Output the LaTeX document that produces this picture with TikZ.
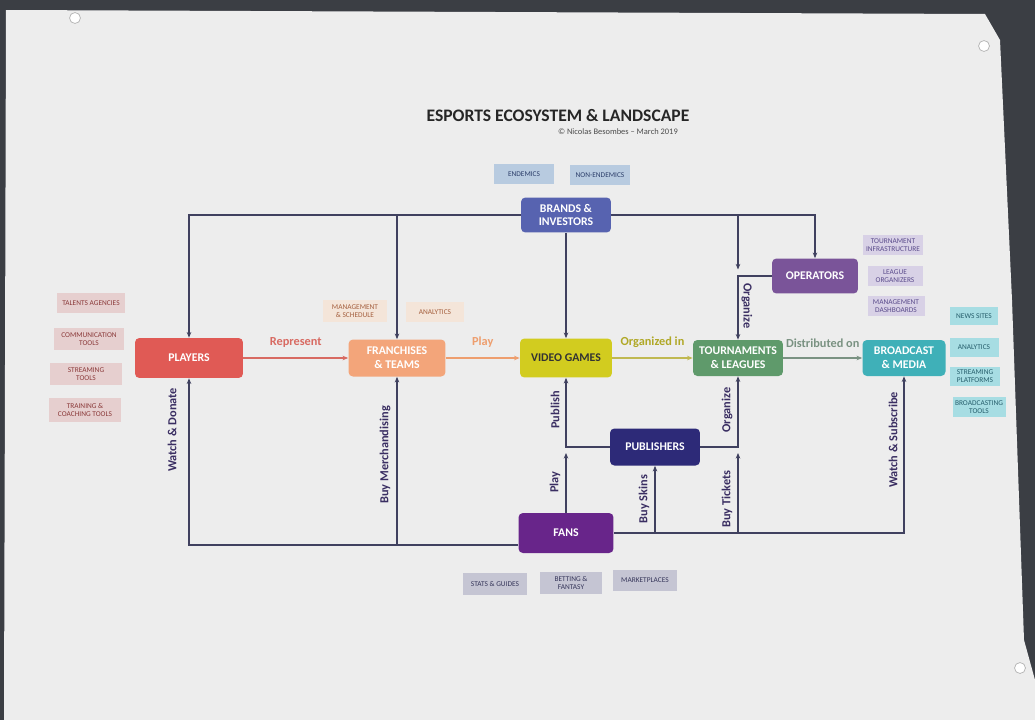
\documentclass[tikz,border=0pt]{standalone}
\usepackage{fontspec}
\setmainfont{Carlito}
\usetikzlibrary{arrows.meta}

\definecolor{wallc}{HTML}{3B3E44}
\definecolor{paperc}{HTML}{EDEDED}
\definecolor{linkc}{HTML}{40415F}
\definecolor{lblc}{HTML}{3A2E62}
\definecolor{playc}{HTML}{E05A55}
\definecolor{teamc}{HTML}{F3A57A}
\definecolor{gamec}{HTML}{D2CC1F}
\definecolor{tourc}{HTML}{5F9A6B}
\definecolor{castc}{HTML}{3FB0B8}
\definecolor{brandc}{HTML}{5763B0}
\definecolor{operc}{HTML}{7A5499}
\definecolor{pubc}{HTML}{2D2A78}
\definecolor{fanc}{HTML}{68258A}
\definecolor{pinkbg}{HTML}{E6CFCF}\definecolor{pinktx}{HTML}{8B3A3A}
\definecolor{beigebg}{HTML}{F4E5D9}\definecolor{beigetx}{HTML}{A5603F}
\definecolor{bluebg}{HTML}{B8CBE0}\definecolor{bluetx}{HTML}{2C3E6A}
\definecolor{lavbg}{HTML}{D8D1E6}\definecolor{lavtx}{HTML}{5B4C8C}
\definecolor{tealbg}{HTML}{A7DDE3}\definecolor{tealtx}{HTML}{265E6C}
\definecolor{greybg}{HTML}{C5C5D3}\definecolor{greytx}{HTML}{36365A}
\definecolor{repc}{HTML}{D86A62}
\definecolor{playlc}{HTML}{EE9E6E}
\definecolor{orgc}{HTML}{B0A826}
\definecolor{distc}{HTML}{7A9282}

\tikzset{
  hub/.style={rounded corners=2.5pt, text=white, align=center, inner sep=0pt,
    font=\fontsize{6.7}{7.8}\selectfont\bfseries},
  tag/.style={align=center, inner sep=0pt, font=\fontsize{4.2}{4.8}\selectfont},
  link/.style={draw=linkc, line width=0.8pt},
  vlab/.style={font=\fontsize{7}{8}\selectfont\bfseries, text=lblc},
  hlab/.style={font=\fontsize{7}{8}\selectfont\bfseries, above=2pt},
  pin/.style={circle, fill=white, draw=gray!60, inner sep=2.2pt}
}

\begin{document}
\begin{tikzpicture}[x=0.02cm, y=-0.02cm, >={Stealth[length=3.2pt,width=2.6pt]}]
    \useasboundingbox (0,0) rectangle (1035,720);
    % wall and poster sheet
    \fill[wallc] (0,0) rectangle (1035,720);
    \fill[paperc] (6,10) -- (985,14) -- (1000,40) -- (1012,300) -- (1024,640) -- (1035,680) -- (1035,720) -- (4,720) -- cycle;
    \node[pin] (pinA) at (75,18) {};
    \node[pin] (pinB) at (984,46) {};
    \node[pin] (pinC) at (1020,668) {};

    % title
    \node[font=\fontsize{10}{12}\selectfont\bfseries, text=black!85] (title) at (558,115) {ESPORTS ECOSYSTEM \& LANDSCAPE};
    \node[font=\fontsize{4.8}{6}\selectfont, text=black!70, anchor=east] (author) at (684,132) {© Nicolas Besombes – March 2019};

    % main actors
    \node[hub, fill=brandc, minimum width=1.80cm, minimum height=0.70cm] (brands) at (566,215) {BRANDS \&\\INVESTORS};
    \node[hub, fill=playc, minimum width=2.16cm, minimum height=0.80cm] (players) at (189,358) {PLAYERS};
    \node[hub, fill=teamc, minimum width=1.94cm, minimum height=0.74cm] (franch) at (397,358) {FRANCHISES\\\& TEAMS};
    \node[hub, fill=gamec, text=black!80, minimum width=1.84cm, minimum height=0.78cm] (vg) at (566,358) {VIDEO GAMES};
    \node[hub, fill=tourc, minimum width=1.80cm, minimum height=0.72cm] (tour) at (738,358) {TOURNAMENTS\\\& LEAGUES};
    \node[hub, fill=castc, minimum width=1.66cm, minimum height=0.72cm] (bcast) at (904,358) {BROADCAST\\\& MEDIA};
    \node[hub, fill=operc, minimum width=1.72cm, minimum height=0.70cm] (oper) at (815,276) {OPERATORS};
    \node[hub, fill=pubc, minimum width=1.80cm, minimum height=0.74cm] (pub) at (655,447) {PUBLISHERS};
    \node[hub, fill=fanc, minimum width=1.90cm, minimum height=0.80cm] (fans) at (566,533) {FANS};

    % side tags
    \node[tag, fill=bluebg, text=bluetx, minimum width=1.22cm, minimum height=0.40cm] (endem) at (524,174) {ENDEMICS};
    \node[tag, fill=bluebg, text=bluetx, minimum width=1.20cm, minimum height=0.40cm] (nonendem) at (600,175) {NON-ENDEMICS};

    \node[tag, fill=pinkbg, text=pinktx, minimum width=1.38cm, minimum height=0.40cm] (talent) at (91,303) {TALENTS AGENCIES};
    \node[tag, fill=pinkbg, text=pinktx, minimum width=1.42cm, minimum height=0.44cm] (commtools) at (89,339) {COMMUNICATION\\TOOLS};
    \node[tag, fill=pinkbg, text=pinktx, minimum width=1.44cm, minimum height=0.44cm] (streamtools) at (86,374) {STREAMING\\TOOLS};
    \node[tag, fill=pinkbg, text=pinktx, minimum width=1.46cm, minimum height=0.48cm] (training) at (85,410) {TRAINING \&\\COACHING TOOLS};

    \node[tag, fill=beigebg, text=beigetx, minimum width=1.28cm, minimum height=0.44cm] (mgmt) at (355,311) {MANAGEMENT\\\& SCHEDULE};
    \node[tag, fill=beigebg, text=beigetx, minimum width=1.18cm, minimum height=0.40cm] (teamstats) at (435,312) {ANALYTICS};

    \node[tag, fill=lavbg, text=lavtx, minimum width=1.20cm, minimum height=0.40cm] (tinfra) at (893,245) {TOURNAMENT\\INFRASTRUCTURE};
    \node[tag, fill=lavbg, text=lavtx, minimum width=1.10cm, minimum height=0.40cm] (leagueorg) at (895,276) {LEAGUE\\ORGANIZERS};
    \node[tag, fill=lavbg, text=lavtx, minimum width=1.14cm, minimum height=0.40cm] (mgmtdash) at (896,306) {MANAGEMENT\\DASHBOARDS};

    \node[tag, fill=tealbg, text=tealtx, minimum width=0.96cm, minimum height=0.36cm] (news) at (974,316) {NEWS SITES};
    \node[tag, fill=tealbg, text=tealtx, minimum width=0.98cm, minimum height=0.38cm] (caststats) at (974,347) {ANALYTICS};
    \node[tag, fill=tealbg, text=tealtx, minimum width=1.00cm, minimum height=0.38cm] (streamplat) at (975,376) {STREAMING\\PLATFORMS};
    \node[tag, fill=tealbg, text=tealtx, minimum width=1.06cm, minimum height=0.40cm] (casttools) at (979,407) {BROADCASTING\\TOOLS};

    \node[tag, fill=greybg, text=greytx, minimum width=1.30cm, minimum height=0.44cm] (guides) at (495,584) {STATS \& GUIDES};
    \node[tag, fill=greybg, text=greytx, minimum width=1.26cm, minimum height=0.44cm] (betting) at (571,583) {BETTING \&\\FANTASY};
    \node[tag, fill=greybg, text=greytx, minimum width=1.28cm, minimum height=0.42cm] (market) at (645,580) {MARKETPLACES};

    % main chain
    \draw[link, draw=repc, ->] (players) -- (franch) node[midway, hlab, text=repc] (lrep) {Represent};
    \draw[link, draw=playlc, ->] (franch) -- (vg) node[midway, hlab, text=playlc] (lplay) {Play};
    \draw[link, draw=orgc!80, ->] (vg) -- (tour) node[midway, hlab, text=orgc] (lorgin) {Organized in};
    \draw[link, draw=distc, ->] (tour) -- (bcast) node[midway, hlab, text=distc] (ldist) {Distributed on};

    % brands & investors
    \draw[link, ->] (brands.west) -| (players.north);
    \draw[link, ->] (franch.north |- brands.west) -- (franch.north);
    \draw[link, ->] (brands.south) -- (vg.north);
    \draw[link, ->] (brands.east) -| (oper.north);
    \coordinate (orgJ) at (tour.north |- oper.west);
    \draw[link, ->] (tour.north |- brands.east) -- ([yshift=1.3mm]orgJ);
    \draw[link, ->] (oper.west) -| (tour.north);
    \node[vlab, rotate=-90] (lorgup) at (747,306) {Organize};

    % publishers
    \coordinate (playJ) at (vg.south |- pub.west);
    \coordinate (tixJ) at (tour.south |- pub.east);
    \draw[link, ->] (pub.west) -| (vg.south);
    \draw[link, ->] (pub.east) -| (tour.south);
    \node[vlab, rotate=90] (lpub) at (555,410) {Publish};
    \node[vlab, rotate=90] (lorgdn) at (727,410) {Organize};

    % fans
    \coordinate (fanL) at (183,545);
    \draw[link, ->] (fans.west |- fanL) -| (players.south);
    \draw[link, ->] (franch.south |- fanL) -- (franch.south);
    \draw[link, ->] (fans.north) -- ([yshift=-1.2mm]playJ);
    \draw[link, ->] (fans.east) -| (bcast.south);
    \draw[link, ->] (pub.south |- fans.east) -- (pub.south);
    \draw[link, ->] (tour.south |- fans.east) -- ([yshift=-1.2mm]tixJ);
    \node[vlab, rotate=90] (ldonate) at (172,430) {Watch \& Donate};
    \node[vlab, rotate=90] (lmerch) at (385,455) {Buy Merchandising};
    \node[vlab, rotate=90] (lfplay) at (555,482) {Play};
    \node[vlab, rotate=90] (lskins) at (644,499) {Buy Skins};
    \node[vlab, rotate=90] (ltix) at (727,499) {Buy Tickets};
    \node[vlab, rotate=90] (lsub) at (893,440) {Watch \& Subscribe};
\end{tikzpicture}
\end{document}
